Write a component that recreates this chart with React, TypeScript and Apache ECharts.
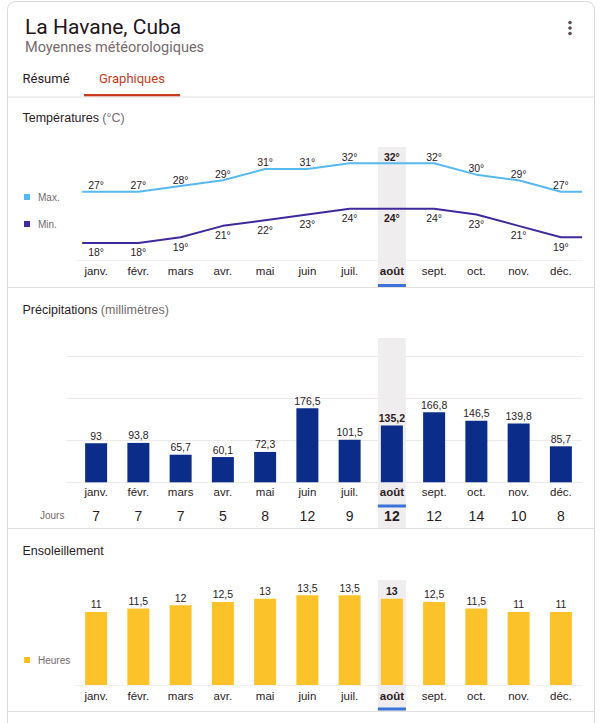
import React, { useEffect, useRef } from "react";
import * as echarts from "echarts";

const MONTHS = ["janv.", "févr.", "mars", "avr.", "mai", "juin", "juil.", "août", "sept.", "oct.", "nov.", "déc."];
const TEMP_MAX = [27, 27, 28, 29, 31, 31, 32, 32, 32, 30, 29, 27];
const TEMP_MIN = [18, 18, 19, 21, 22, 23, 24, 24, 24, 23, 21, 19];
const PRECIP_MM = [93, 93.8, 65.7, 60.1, 72.3, 176.5, 101.5, 135.2, 166.8, 146.5, 139.8, 85.7];
const RAIN_DAYS = [7, 7, 7, 5, 8, 12, 9, 12, 12, 14, 10, 8];
const SUN_HOURS = [11, 11.5, 12, 12.5, 13, 13.5, 13.5, 13, 12.5, 11.5, 11, 11];
const HIGHLIGHT = "août";

const DARK = "#2b1b1e";
const GREY = "#756a6d";
const CFONT = 'Arial, "Liberation Sans", sans-serif';
const HFONT = 'Roboto, Arial, sans-serif';

const fmt = (v: number) => String(v).replace(".", ",");
const isHi = (i: number) => MONTHS[i] === HIGHLIGHT;

export default function App() {
  const ref = useRef<HTMLDivElement>(null);
  useEffect(() => {
    if (!ref.current) return;
    const chart = echarts.init(ref.current, null, { renderer: "svg" });
    const L = 75, W = 507;
    const grid = (top: number, height: number, left = L, width = W) => ({ left, top, width, height, containLabel: false });
    const hiData = MONTHS.map((m) => (m === HIGHLIGHT ? 1 : "-"));
    const monthAxis = (gridIndex: number, margin: number, lineColor: string) => ({
      type: "category", gridIndex, data: MONTHS, boundaryGap: true, position: "bottom",
      axisTick: { show: false },
      axisLine: { show: true, lineStyle: { color: lineColor, width: 1 } },
      axisLabel: {
        margin, fontSize: 11.5, color: DARK, fontFamily: CFONT, interval: 0,
        formatter: (v: string) => (v === HIGHLIGHT ? `{b|${v}}` : v),
        rich: { b: { fontWeight: "bold", fontSize: 11.5, color: DARK, fontFamily: CFONT } },
      },
    });
    const hiddenCat = (gridIndex: number) => ({ type: "category", gridIndex, data: MONTHS, show: false });
    const hiddenVal = (gridIndex: number, min: number, max: number) => ({ type: "value", gridIndex, min, max, show: false, splitLine: { show: false } });

    const lineData = (arr: number[]) => [
      { value: [-0.33, arr[0]], label: { show: false } },
      ...arr.map((v, i) => ({ value: [i, v], label: { show: true, fontWeight: isHi(i) ? "bold" : "normal" } })),
      { value: [11.5, arr[arr.length - 1]], label: { show: false } },
    ];
    const barData = (arr: number[]) => arr.map((v, i) => ({ value: v, label: { fontWeight: isHi(i) ? "bold" : "normal" } }));
    const hiSeries = (xi: number, yi: number, color: string, z: number) => ({
      type: "bar", xAxisIndex: xi, yAxisIndex: yi, data: hiData, barWidth: 28, silent: true, z,
      itemStyle: { color }, label: { show: false },
    });

    const option: any = {
      animation: false,
      backgroundColor: "#ffffff",
      grid: [
        grid(146.2, 113.8), // 0 temp
        grid(147, 140), // 1 temp highlight
        grid(284, 3), // 2 temp underline
        grid(356.3, 126), // 3 precip
        grid(338, 190), // 4 precip highlight
        grid(504.5, 3), // 5 precip underline
        grid(592, 93), // 6 sun
        grid(580, 131), // 7 sun highlight
        grid(707.5, 3), // 8 sun underline
        grid(356.3, 126, 67, 515), // 9 precip gridlines
      ],
      xAxis: [
        monthAxis(0, 5, "#f2f0f0"), // 0
        { type: "value", gridIndex: 0, min: -0.5, max: 11.5, show: false }, // 1
        hiddenCat(1), // 2
        hiddenCat(2), // 3
        monthAxis(3, 4, "#ebe9e9"), // 4
        {
          type: "category", gridIndex: 3, data: MONTHS, position: "bottom",
          axisLine: { show: false }, axisTick: { show: false },
          axisLabel: {
            margin: 27, fontSize: 14, color: DARK, fontFamily: CFONT, interval: 0,
            formatter: (_v: string, i: number) => (isHi(i) ? `{b|${RAIN_DAYS[i]}}` : String(RAIN_DAYS[i])),
            rich: { b: { fontWeight: "bold", fontSize: 14, color: DARK, fontFamily: CFONT } },
          },
        }, // 5
        hiddenCat(4), // 6
        hiddenCat(5), // 7
        monthAxis(6, 4.5, "#f2f0f0"), // 8
        hiddenCat(7), // 9
        hiddenCat(8), // 10
        { type: "value", gridIndex: 9, min: 0, max: 1, show: false }, // 11
      ],
      yAxis: [
        hiddenVal(0, 15, 35),
        hiddenVal(1, 0, 1),
        hiddenVal(2, 0, 1),
        hiddenVal(3, 0, 300),
        hiddenVal(4, 0, 1),
        hiddenVal(5, 0, 1),
        hiddenVal(6, 0, 14),
        hiddenVal(7, 0, 1),
        hiddenVal(8, 0, 1),
        {
          type: "value", gridIndex: 9, min: 0, max: 300, interval: 100,
          axisLine: { show: false }, axisTick: { show: false }, axisLabel: { show: false },
          splitLine: { show: true, lineStyle: { color: "#ebe9e9", width: 1 } },
        },
      ],
      legend: [
        {
          data: ["Max.", "Min."], orient: "vertical", left: 19, top: 187,
          itemWidth: 6, itemHeight: 6, itemGap: 17, icon: "rect", selectedMode: false,
          textStyle: { fontSize: 10, color: GREY, fontFamily: CFONT, padding: [0, 0, 0, 3] },
        },
        {
          data: ["Heures"], orient: "vertical", left: 19, top: 650,
          itemWidth: 6, itemHeight: 6, icon: "rect", selectedMode: false,
          textStyle: { fontSize: 10, color: GREY, fontFamily: CFONT, padding: [0, 0, 0, 3] },
        },
      ],
      series: [
        hiSeries(2, 1, "#efeded", 0),
        hiSeries(3, 2, "#3a72d8", 3),
        {
          name: "Max.", type: "line", xAxisIndex: 1, yAxisIndex: 0, data: lineData(TEMP_MAX),
          color: "#58b9ee", symbol: "circle", symbolSize: 0.01, z: 2,
          lineStyle: { color: "#58b9ee", width: 2 },
          label: { show: true, position: "top", distance: 1, fontSize: 10.5, color: DARK, fontFamily: CFONT, formatter: (p: any) => `${p.value[1]}°` },
        },
        {
          name: "Min.", type: "line", xAxisIndex: 1, yAxisIndex: 0, data: lineData(TEMP_MIN),
          color: "#40299c", symbol: "circle", symbolSize: 0.01, z: 2,
          lineStyle: { color: "#40299c", width: 2 },
          label: { show: true, position: "bottom", distance: 4, fontSize: 10.5, color: DARK, fontFamily: CFONT, formatter: (p: any) => `${p.value[1]}°` },
        },
        hiSeries(6, 4, "#efeded", 0),
        hiSeries(7, 5, "#3a72d8", 3),
        {
          name: "Précipitations", type: "bar", xAxisIndex: 4, yAxisIndex: 3, data: barData(PRECIP_MM),
          barWidth: 22, z: 2, itemStyle: { color: "#0c2c8a" },
          label: { show: true, position: "top", distance: 2, fontSize: 10.5, color: DARK, fontFamily: CFONT, formatter: (p: any) => fmt(p.value) },
        },
        hiSeries(9, 7, "#efeded", 0),
        hiSeries(10, 8, "#3a72d8", 3),
        {
          name: "Heures", type: "bar", xAxisIndex: 8, yAxisIndex: 6, data: barData(SUN_HOURS),
          barWidth: 22, z: 2, color: "#fcc22a", itemStyle: { color: "#fcc22a" },
          label: { show: true, position: "top", distance: 2, fontSize: 10.5, color: DARK, fontFamily: CFONT, formatter: (p: any) => fmt(p.value) },
        },
      ],
      graphic: [
        { type: "rect", z: -10, silent: true, shape: { x: 7.5, y: 1.5, width: 587, height: 760, r: 8 }, style: { fill: "#fff", stroke: "#dadada", lineWidth: 1 } },
        { type: "text", x: 25, y: 27, style: { text: "La Havane, Cuba", font: `21px ${HFONT}`, fill: "#23151a", verticalAlign: "middle" } },
        { type: "text", x: 25, y: 47, style: { text: "Moyennes météorologiques", font: `14.5px ${HFONT}`, fill: GREY, verticalAlign: "middle" } },
        { type: "circle", shape: { cx: 570, cy: 22.5, r: 1.8 }, style: { fill: "#5e4a52" } },
        { type: "circle", shape: { cx: 570, cy: 28, r: 1.8 }, style: { fill: "#5e4a52" } },
        { type: "circle", shape: { cx: 570, cy: 33.5, r: 1.8 }, style: { fill: "#5e4a52" } },
        { type: "text", x: 22.5, y: 78, style: { text: "Résumé", font: `13px ${HFONT}`, fill: DARK, verticalAlign: "middle" } },
        { type: "text", x: 99, y: 78, style: { text: "Graphiques", font: `13px ${HFONT}`, fill: "#c93a1e", verticalAlign: "middle" } },
        { type: "rect", shape: { x: 84, y: 94, width: 96, height: 2.5 }, style: { fill: "#c93a1e" } },
        { type: "line", shape: { x1: 8, y1: 97, x2: 594.5, y2: 97 }, style: { stroke: "#e2e0e0", lineWidth: 1 } },
        { type: "line", shape: { x1: 8, y1: 287.5, x2: 594.5, y2: 287.5 }, style: { stroke: "#e2e0e0", lineWidth: 1 } },
        { type: "line", shape: { x1: 8, y1: 528.5, x2: 594.5, y2: 528.5 }, style: { stroke: "#e2e0e0", lineWidth: 1 } },
        { type: "line", shape: { x1: 8, y1: 711.5, x2: 594.5, y2: 711.5 }, style: { stroke: "#e2e0e0", lineWidth: 1 } },
        {
          type: "text", x: 22.5, y: 117.7,
          style: {
            text: "{a|Températures} {b|(°C)}", verticalAlign: "middle",
            rich: { a: { fontSize: 12.5, fontFamily: CFONT, fill: DARK, color: DARK }, b: { fontSize: 12.5, fontFamily: CFONT, fill: GREY, color: GREY } },
          },
        },
        {
          type: "text", x: 22.5, y: 309.5,
          style: {
            text: "{a|Précipitations} {b|(millimètres)}", verticalAlign: "middle",
            rich: { a: { fontSize: 12.5, fontFamily: CFONT, fill: DARK, color: DARK }, b: { fontSize: 12.5, fontFamily: CFONT, fill: GREY, color: GREY } },
          },
        },
        { type: "text", x: 22.5, y: 550.5, style: { text: "Ensoleillement", font: `12.5px ${CFONT}`, fill: DARK, verticalAlign: "middle" } },
        { type: "text", x: 40, y: 515, style: { text: "Jours", font: `10px ${CFONT}`, fill: GREY, verticalAlign: "middle" } },
      ],
    };
    chart.setOption(option);
    return () => chart.dispose();
  }, []);
  return <div ref={ref} style={{ position: "fixed", left: 0, top: 0, width: 600, height: 723, background: "#fff" }} />;
}
